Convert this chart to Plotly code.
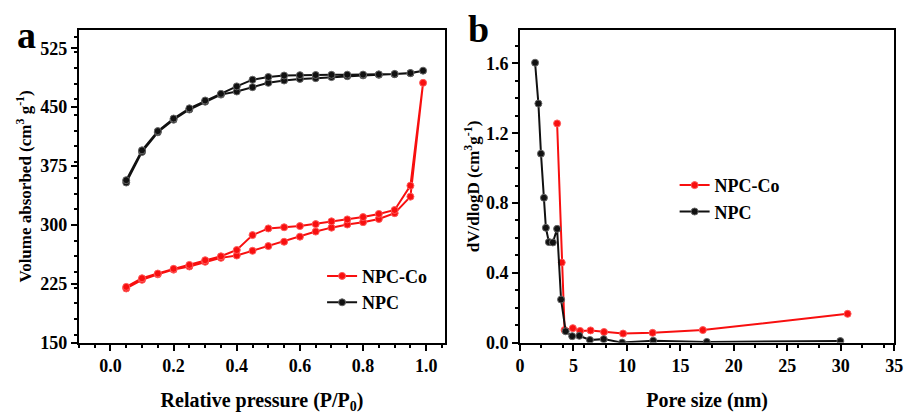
import plotly.graph_objects as go

# ---- Panel a: N2 isotherms ----
P_ads = [0.05, 0.10, 0.15, 0.20, 0.25, 0.30, 0.35, 0.40, 0.45, 0.50, 0.55, 0.60, 0.65, 0.70, 0.75, 0.80, 0.85, 0.90, 0.95, 0.99]
P_des = [0.95, 0.90, 0.85, 0.80, 0.75, 0.70, 0.65, 0.60, 0.55, 0.50, 0.45, 0.40, 0.35, 0.30, 0.25, 0.20, 0.15, 0.10, 0.05]

npcco_ads = [219, 230, 237, 243, 247, 253, 258, 261, 267, 273, 278.5, 285, 291.5, 296.5, 300.5, 303.5, 307.5, 315, 336, 481]
npcco_des = [350, 319, 314, 310, 307, 304.5, 301, 298.5, 297, 295.5, 287, 268, 260, 255, 249, 244, 238, 232, 221]

npc_ads = [354, 393, 418, 434, 447, 457, 466, 470, 475.5, 481, 484, 486, 487, 488.3, 489.5, 490.5, 491.2, 492, 493.3, 496.5]
npc_des = [493.5, 492.4, 491.8, 491.5, 491.4, 491.2, 491, 490.8, 490.3, 488.5, 485, 476.5, 467, 458.5, 448.5, 435.5, 419.5, 395, 357]

# ---- Panel b: pore size distribution ----
d_npcco = [3.47, 3.90, 4.17, 4.94, 5.62, 6.60, 7.86, 9.64, 12.4, 17.1, 30.64]
v_npcco = [1.256, 0.459, 0.072, 0.083, 0.067, 0.070, 0.061, 0.052, 0.056, 0.072, 0.165]

d_npc = [1.41, 1.72, 1.96, 2.24, 2.42, 2.70, 3.07, 3.47, 3.84, 4.27, 4.88, 5.55, 6.54, 7.83, 9.55, 12.46, 17.47, 29.96]
v_npc = [1.604, 1.37, 1.083, 0.83, 0.658, 0.576, 0.574, 0.652, 0.247, 0.065, 0.037, 0.039, 0.015, 0.020, 0.0, 0.011, 0.004, 0.009]

RED = "#F80F0F"
BLACK = "#111111"
FONT = "Liberation Serif"

fig = go.Figure()

mk_red = dict(size=7, symbol="circle", color=RED, line=dict(width=1, color="#FF5A5A"))
mk_blk = dict(size=7, symbol="circle", color=BLACK, line=dict(width=1, color="#666666"))

fig.add_trace(go.Scatter(x=P_ads + P_des, y=npcco_ads + npcco_des, mode="lines+markers", name="<b>NPC-Co</b>",
                         line=dict(color=RED, width=2), marker=mk_red,
                         xaxis="x", yaxis="y", legend="legend"))
fig.add_trace(go.Scatter(x=P_ads + P_des, y=npc_ads + npc_des, mode="lines+markers", name="<b>NPC</b>",
                         line=dict(color=BLACK, width=2), marker=mk_blk,
                         xaxis="x", yaxis="y", legend="legend"))

fig.add_trace(go.Scatter(x=d_npcco, y=v_npcco, mode="lines+markers", name="<b>NPC-Co</b>",
                         line=dict(color=RED, width=2), marker=mk_red,
                         xaxis="x2", yaxis="y2", legend="legend2"))
fig.add_trace(go.Scatter(x=d_npc, y=v_npc, mode="lines+markers", name="<b>NPC</b>",
                         line=dict(color=BLACK, width=2), marker=mk_blk,
                         xaxis="x2", yaxis="y2", legend="legend2"))

tickfont = dict(family=FONT, size=18, color="black")
xtitlefont = dict(family=FONT, size=20, color="black")
ytitlefont = dict(family=FONT, size=17, color="black")

axis_common = dict(showline=True, linecolor="black", linewidth=2, mirror=True,
                   ticks="outside", ticklen=6, tickwidth=1.5, tickcolor="black",
                   showgrid=False, zeroline=False, tickfont=tickfont,
                   minor=dict(ticks="outside", ticklen=3, tickwidth=1.5, tickcolor="black", showgrid=False))

yd = [1 - 351 / 419, 1 - 31 / 419]

fig.update_layout(
    width=917, height=419,
    margin=dict(l=0, r=0, t=0, b=0),
    paper_bgcolor="white", plot_bgcolor="white",
    font=dict(family=FONT, color="black"),
    xaxis=dict(domain=[75 / 917, 447 / 917], range=[-0.1, 1.06], tickvals=[0.0, 0.2, 0.4, 0.6, 0.8, 1.0],
               ticktext=["0.0", "0.2", "0.4", "0.6", "0.8", "1.0"], anchor="y",
               title=dict(text="<b>Relative pressure (P/P<sub>0</sub>)</b>", font=xtitlefont, standoff=18),
               **axis_common),
    yaxis=dict(domain=yd, range=[150, 548], tickvals=[150, 225, 300, 375, 450, 525], anchor="x",
               title=dict(text="<b>Volume absorbed (cm<sup>3</sup> g<sup>-1</sup>)</b>", font=ytitlefont, standoff=4),
               **axis_common),
    xaxis2=dict(domain=[523 / 917, 903 / 917], range=[0, 35], tickvals=[0, 5, 10, 15, 20, 25, 30, 35], anchor="y2",
                title=dict(text="<b>Pore size (nm)</b>", font=xtitlefont, standoff=18),
                **axis_common),
    yaxis2=dict(domain=yd, range=[0, 1.79], tickvals=[0.0, 0.4, 0.8, 1.2, 1.6],
                ticktext=["0.0", "0.4", "0.8", "1.2", "1.6"], anchor="x2",
                title=dict(text="<b>dV/dlogD (cm<sup>3</sup>g<sup>-1</sup>)</b>", font=ytitlefont, standoff=2),
                **axis_common),
    legend=dict(x=322 / 917, y=1 - 264 / 419, xanchor="left", yanchor="top", bgcolor="rgba(0,0,0,0)",
                font=dict(family=FONT, size=18, color="black"), tracegroupgap=0, itemwidth=30),
    legend2=dict(x=680 / 917, y=1 - 171 / 419, xanchor="left", yanchor="top", bgcolor="rgba(0,0,0,0)",
                 font=dict(family=FONT, size=18, color="black"), tracegroupgap=0, itemwidth=30),
    showlegend=True,
)

fig.add_annotation(text="<b>a</b>", x=10 / 917, y=1 - 12 / 419, xref="paper", yref="paper",
                   xanchor="left", yanchor="top", showarrow=False,
                   font=dict(family=FONT, size=38, color="black"))
fig.add_annotation(text="<b>b</b>", x=468 / 917, y=1 - 6 / 419, xref="paper", yref="paper",
                   xanchor="left", yanchor="top", showarrow=False,
                   font=dict(family=FONT, size=38, color="black"))

# bold tick labels
for ax in ["xaxis", "yaxis", "xaxis2", "yaxis2"]:
    a = fig.layout[ax]
    vals = a.tickvals
    txt = a.ticktext if a.ticktext else [str(v) for v in vals]
    fig.layout[ax].ticktext = ["<b>%s</b>" % t for t in txt]

fig.write_html("out.html")
